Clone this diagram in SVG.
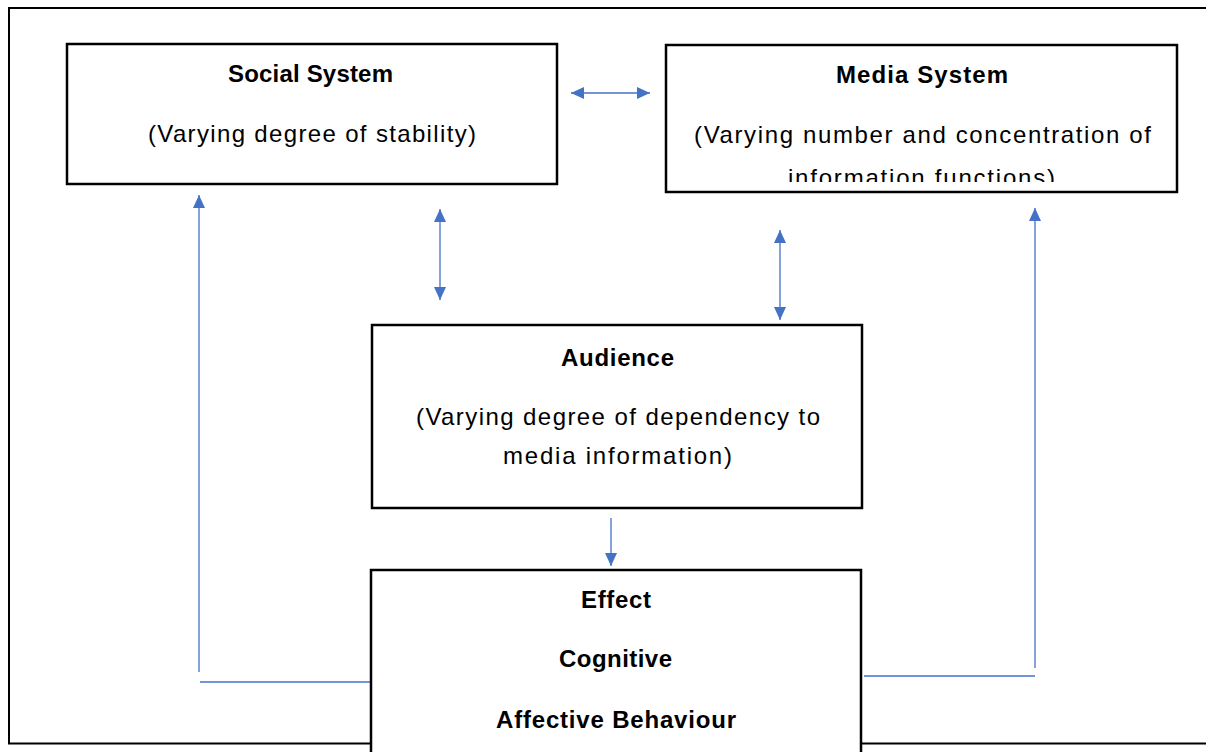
<svg xmlns="http://www.w3.org/2000/svg" width="1206" height="752" viewBox="0 0 1206 752">
<style>
.box{fill:#fff;stroke:#000;stroke-width:2.5}
.frame{fill:none;stroke:#000;stroke-width:2}
.t{font-family:"Liberation Sans",Arial,sans-serif;font-size:24px;fill:#000;text-anchor:middle}
.b{font-weight:bold}
.c{stroke:#4472C4;stroke-width:1.3;fill:none}
.ca{stroke:#4472C4;stroke-width:1.3;fill:none;marker-end:url(#ah)}
.cd{stroke:#4472C4;stroke-width:1.3;fill:none;marker-end:url(#ah);marker-start:url(#ah)}
</style>
<defs>
<marker id="ah" markerUnits="userSpaceOnUse" markerWidth="14" markerHeight="12" refX="13" refY="6" orient="auto-start-reverse">
<path d="M0,0 L13,6 L0,12 Z" fill="#4472C4"/>
</marker>
<clipPath id="mclip"><rect x="666" y="44" width="511" height="138"/></clipPath>
</defs>
<rect width="1206" height="752" fill="#fff"/>
<path class="frame" d="M1206,8 H9 V743.5 H1206"/>
<g id="connectors">
<line class="cd" x1="571" y1="93" x2="650" y2="93"/>
<line class="cd" x1="440" y1="209" x2="440" y2="300"/>
<line class="cd" x1="780" y1="230" x2="780" y2="320"/>
<line class="ca" x1="611" y1="518" x2="611" y2="566"/>
<line class="ca" x1="199" y1="672" x2="199" y2="195"/>
<line class="c" x1="200" y1="682" x2="371" y2="682"/>
<line class="ca" x1="1035" y1="668" x2="1035" y2="208"/>
<line class="c" x1="864" y1="676" x2="1035" y2="676"/>
</g>
<g id="social">
<rect class="box" x="67" y="44" width="490" height="140"/>
<text class="t b" x="310.5" y="82" textLength="165" lengthAdjust="spacing">Social System</text>
<text class="t" x="312" y="142" textLength="328" lengthAdjust="spacing">(Varying degree of stability)</text>
</g>
<g id="media">
<rect class="box" x="666" y="45" width="511" height="147"/>
<text class="t b" x="922" y="83" textLength="172" lengthAdjust="spacing">Media System</text>
<g clip-path="url(#mclip)">
<text class="t" x="922.5" y="143" textLength="457" lengthAdjust="spacing">(Varying number and concentration of</text>
<text class="t" x="921.5" y="186" textLength="267" lengthAdjust="spacing">information functions)</text>
</g>
</g>
<g id="audience">
<rect class="box" x="372" y="325" width="490" height="183"/>
<text class="t b" x="617.5" y="366" textLength="113" lengthAdjust="spacing">Audience</text>
<text class="t" x="618" y="425" textLength="404" lengthAdjust="spacing">(Varying degree of dependency to</text>
<text class="t" x="617.5" y="464" textLength="229" lengthAdjust="spacing">media information)</text>
</g>
<g id="effect">
<rect class="box" x="371" y="570" width="490" height="200"/>
<text class="t b" x="616" y="608" textLength="70" lengthAdjust="spacing">Effect</text>
<text class="t b" x="615.5" y="667" textLength="113" lengthAdjust="spacing">Cognitive</text>
<text class="t b" x="616" y="728" textLength="240" lengthAdjust="spacing">Affective Behaviour</text>
</g>
</svg>
